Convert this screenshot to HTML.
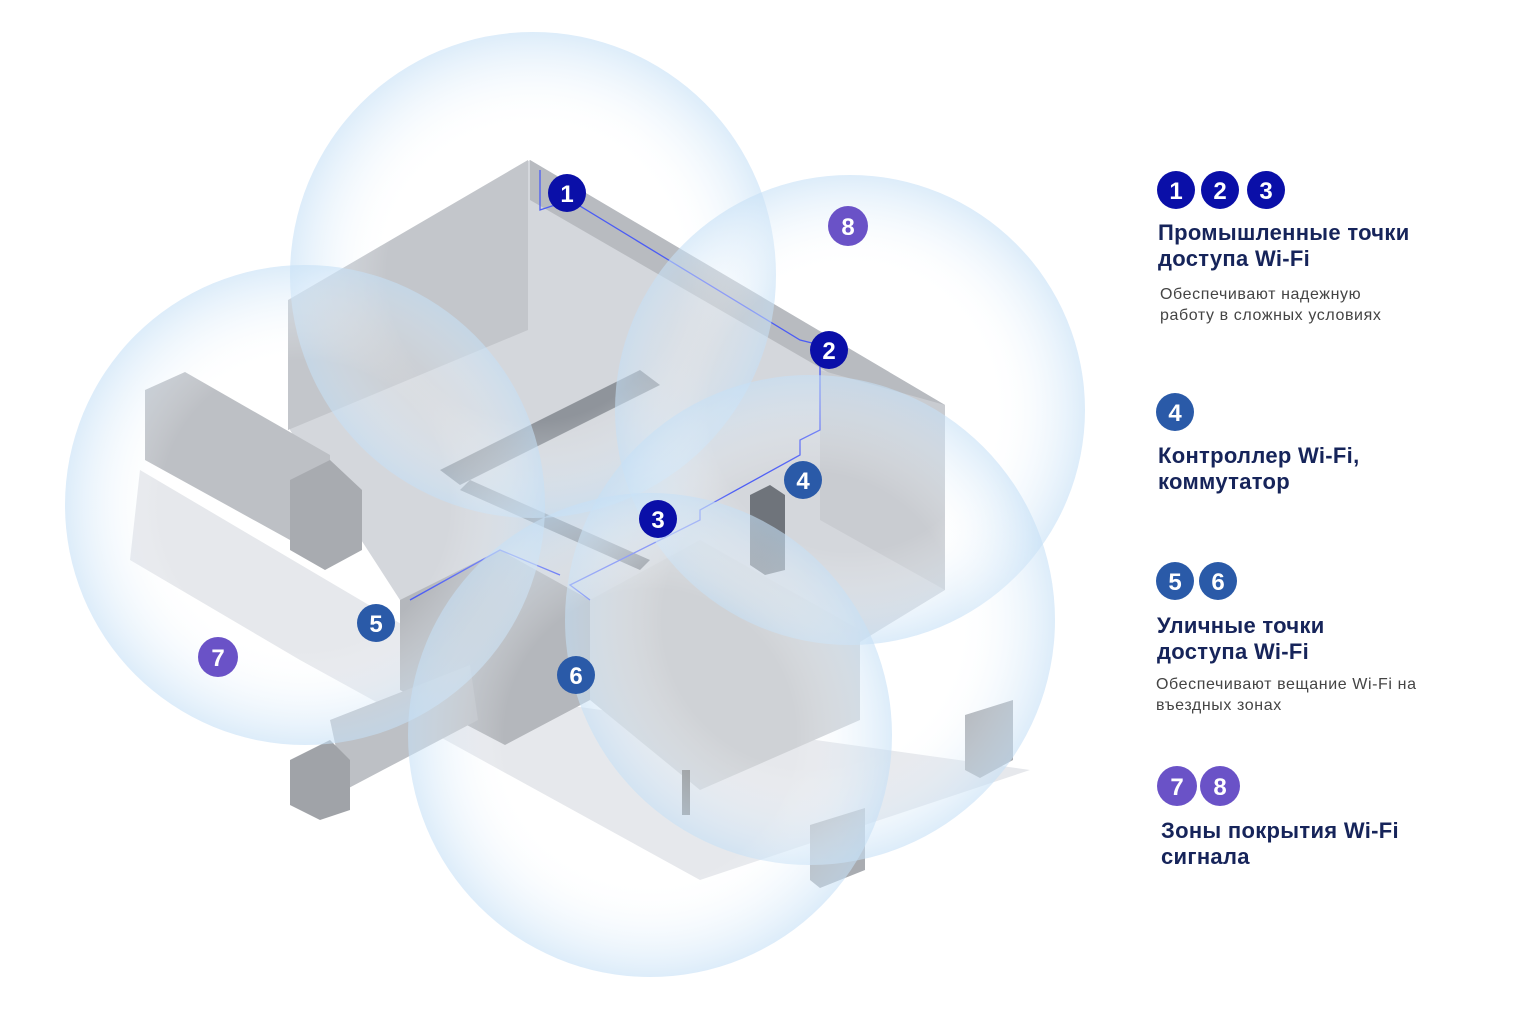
<!DOCTYPE html><html><head><meta charset="utf-8"><style>
body{margin:0;width:1521px;height:1021px;background:#fff;overflow:hidden;font-family:"Liberation Sans",sans-serif;position:relative}
.h{position:absolute;color:#16245a;font-weight:bold;font-size:22px;line-height:26px;letter-spacing:0.3px}
.p{position:absolute;color:#444;font-size:16px;line-height:21px;letter-spacing:0.6px}
</style></head><body>
<svg width="1521" height="1021" style="position:absolute;left:0;top:0">
<defs><radialGradient id="g"><stop offset="0.6" stop-color="#fff" stop-opacity="0"/><stop offset="1" stop-color="#c6e0f6" stop-opacity="0.6"/></radialGradient></defs>
<polygon points="140,470 530,700 1030,770 700,880 300,660 130,560" fill="#e6e8ec"/>
<polygon points="290,300 530,160 945,405 945,590 700,740 400,600 290,430" fill="#d4d7dc"/>
<polygon points="288,300 528,160 528,330 288,430" fill="#c3c6cb"/>
<polygon points="530,160 945,405 945,440 530,200" fill="#b8bbc0"/>
<polygon points="820,370 945,405 945,590 820,520" fill="#c9ccd1"/>
<polygon points="440,470 640,370 660,385 460,485" fill="#8f949b"/>
<polygon points="470,480 650,560 640,570 460,490" fill="#8f949b"/>
<polygon points="400,600 500,550 590,600 590,700 505,745 400,690" fill="#b4b7bc"/>
<polygon points="590,600 700,540 860,630 860,720 700,790 590,700" fill="#cfd2d6"/>
<polygon points="750,495 770,485 785,495 785,570 765,575 750,565" fill="#6f747b"/>
<polygon points="145,390 185,372 330,455 330,520 290,540 145,460" fill="#bdc0c5"/>
<polygon points="290,480 330,460 362,490 362,550 325,570 290,550" fill="#a8abb0"/>
<polygon points="330,720 470,665 478,720 345,790" fill="#bdc0c5"/>
<polygon points="290,760 330,740 350,760 350,810 320,820 290,805" fill="#a0a3a8"/>
<polygon points="810,825 865,808 865,870 820,888 810,880" fill="#a9acb1"/>
<polygon points="965,715 1013,700 1013,760 980,778 965,770" fill="#a9acb1"/>
<rect x="682" y="770" width="8" height="45" fill="#888"/>
<polyline points="540,170 540,210 570,200 800,340 820,345 820,430 800,440 800,455 700,510 700,520 570,585 590,600" fill="none" stroke="#4b5cf5" stroke-width="1.3"/>
<polyline points="410,600 500,550 560,575" fill="none" stroke="#4b5cf5" stroke-width="1.3"/>
<circle cx="533" cy="275" r="243" fill="url(#g)"/>
<circle cx="850" cy="410" r="235" fill="url(#g)"/>
<circle cx="305" cy="505" r="240" fill="url(#g)"/>
<circle cx="810" cy="620" r="245" fill="url(#g)"/>
<circle cx="650" cy="735" r="242" fill="url(#g)"/>
<g font-family="Liberation Sans" font-weight="bold" font-size="24" fill="#fff" text-anchor="middle">
<circle cx="567" cy="193" r="19" fill="#0a0fa8"/><text x="567" y="202">1</text>
<circle cx="829" cy="350" r="19" fill="#0a0fa8"/><text x="829" y="359">2</text>
<circle cx="658" cy="519" r="19" fill="#0a0fa8"/><text x="658" y="528">3</text>
<circle cx="803" cy="480" r="19" fill="#2a5aa8"/><text x="803" y="489">4</text>
<circle cx="376" cy="623" r="19" fill="#2a5aa8"/><text x="376" y="632">5</text>
<circle cx="576" cy="675" r="19" fill="#2a5aa8"/><text x="576" y="684">6</text>
<circle cx="218" cy="657" r="20" fill="#6a52c7"/><text x="218" y="666">7</text>
<circle cx="848" cy="226" r="20" fill="#6a52c7"/><text x="848" y="235">8</text>
<circle cx="1176" cy="190" r="19" fill="#0a0fa8"/><text x="1176" y="199">1</text>
<circle cx="1220" cy="190" r="19" fill="#0a0fa8"/><text x="1220" y="199">2</text>
<circle cx="1266" cy="190" r="19" fill="#0a0fa8"/><text x="1266" y="199">3</text>
<circle cx="1175" cy="412" r="19" fill="#2a5aa8"/><text x="1175" y="421">4</text>
<circle cx="1175" cy="581" r="19" fill="#2a5aa8"/><text x="1175" y="590">5</text>
<circle cx="1218" cy="581" r="19" fill="#2a5aa8"/><text x="1218" y="590">6</text>
<circle cx="1177" cy="786" r="20" fill="#6a52c7"/><text x="1177" y="795">7</text>
<circle cx="1220" cy="786" r="20" fill="#6a52c7"/><text x="1220" y="795">8</text>
</g>
</svg>
<div class="h" style="left:1158px;top:220px">Промышленные точки<br>доступа Wi-Fi</div>
<div class="p" style="left:1160px;top:284px">Обеспечивают надежную<br>работу в сложных условиях</div>
<div class="h" style="left:1158px;top:443px">Контроллер Wi-Fi,<br>коммутатор</div>
<div class="h" style="left:1157px;top:613px">Уличные точки<br>доступа Wi-Fi</div>
<div class="p" style="left:1156px;top:674px">Обеспечивают вещание Wi-Fi на<br>въездных зонах</div>
<div class="h" style="left:1161px;top:818px">Зоны покрытия Wi-Fi<br>сигнала</div>
</body></html>
